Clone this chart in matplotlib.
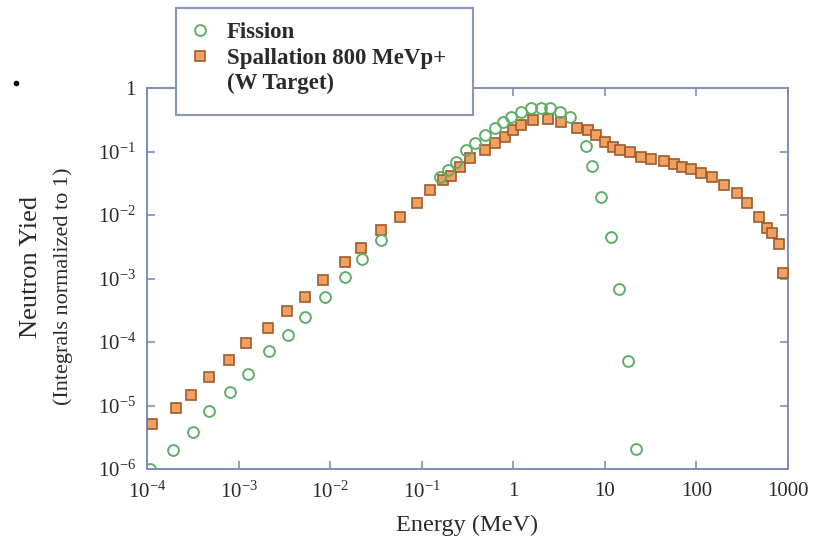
import matplotlib
matplotlib.use("Agg")
import matplotlib.pyplot as plt
from matplotlib.patches import Rectangle
from matplotlib.lines import Line2D
from matplotlib.ticker import FixedLocator, FixedFormatter, NullLocator

plt.rcParams['font.family'] = ['Liberation Serif', 'DejaVu Serif']
plt.rcParams['mathtext.fontset'] = 'custom'
plt.rcParams['mathtext.rm'] = 'Liberation Serif'
plt.rcParams['mathtext.it'] = 'Liberation Serif:italic'
plt.rcParams['mathtext.bf'] = 'Liberation Serif:bold'

# ---- data ----
spall_E = [1.14e-4, 2.08e-4, 3.03e-4, 4.78e-4, 7.9e-4, 1.21e-3, 2.11e-3, 3.41e-3,
           5.25e-3, 8.26e-3, 1.44e-2, 2.15e-2, 3.56e-2, 5.75e-2, 8.83e-2, 0.123,
           0.170, 0.208, 0.261, 0.337, 0.491, 0.632, 0.813, 0.995, 1.22, 1.65,
           2.40, 3.34, 5.0, 6.6, 8.07, 10.1, 12.4, 14.8, 19.0, 25.1, 32.3, 43.7,
           56.2, 68.9, 86.3, 111, 147, 199, 275, 355, 480, 587, 667, 794, 880]
spall_Y = [5.13e-6, 9.18e-6, 1.47e-5, 2.83e-5, 5.26e-5, 9.76e-5, 1.68e-4, 3.12e-4,
           5.2e-4, 9.64e-4, 1.79e-3, 2.98e-3, 5.73e-3, 9.18e-3, 1.53e-2, 2.45e-2,
           3.53e-2, 4.08e-2, 5.66e-2, 7.85e-2, 0.105, 0.135, 0.168, 0.217, 0.261,
           0.313, 0.324, 0.290, 0.234, 0.217, 0.181, 0.140, 0.117, 0.105, 0.0976,
           0.0813, 0.0757, 0.0704, 0.0631, 0.0566, 0.0526, 0.0455, 0.0393, 0.0294,
           0.0220, 0.0153, 9.18e-3, 6.15e-3, 5.13e-3, 3.44e-3, 1.24e-3]

fiss_E = [1.08e-4, 1.93e-4, 3.19e-4, 4.78e-4, 8.1e-4, 1.28e-3, 2.17e-3, 3.5e-3,
          5.25e-3, 8.7e-3, 1.44e-2, 2.21e-2, 3.56e-2, 0.158, 0.193, 0.236, 0.304,
          0.382, 0.491, 0.632, 0.773, 0.946, 1.22, 1.57, 2.01, 2.53, 3.26, 4.19,
          6.27, 7.3, 9.16, 11.8, 14.1, 18.1, 22.1]
fiss_Y = [1.0e-6, 2.0e-6, 3.84e-6, 8.24e-6, 1.64e-5, 3.16e-5, 7.3e-5, 1.31e-4,
          2.51e-4, 5.2e-4, 1.04e-3, 2.0e-3, 3.98e-3, 0.0393, 0.0507, 0.0678, 0.105,
          0.135, 0.181, 0.234, 0.290, 0.348, 0.418, 0.483, 0.483, 0.483, 0.418,
          0.348, 0.121, 0.0587, 0.019, 4.44e-3, 6.95e-4, 5.07e-5, 2.07e-6]

x_ticks = [1e-4, 1e-3, 1e-2, 1e-1, 1, 10, 100, 1000]
x_labels = [r'$\mathrm{10^{-4}}$', r'$\mathrm{10^{-3}}$', r'$\mathrm{10^{-2}}$',
            r'$\mathrm{10^{-1}}$', '1', '10', '100', '1000']
y_ticks = [1e-6, 1e-5, 1e-4, 1e-3, 1e-2, 1e-1, 1]
y_labels = [r'$\mathrm{10^{-6}}$', r'$\mathrm{10^{-5}}$', r'$\mathrm{10^{-4}}$',
            r'$\mathrm{10^{-3}}$', r'$\mathrm{10^{-2}}$', r'$\mathrm{10^{-1}}$', '1']

label_fission = 'Fission'
label_spall = 'Spallation 800 MeVp+'
label_spall2 = '(W Target)'

# ---- figure ----
W, H = 821, 542
fig = plt.figure(figsize=(W / 100, H / 100), dpi=100)
fig.patch.set_facecolor('white')
L, R, T, B = 147, 788, 88, 469
ax = fig.add_axes([L / W, 1 - B / H, (R - L) / W, (B - T) / H])

spine_col = '#7f8bbd'
orange_face = '#f0a060'
orange_edge = '#a05a2a'
green_edge = '#5fae68'
text_col = '#2a2a2a'

ax.plot(spall_E, spall_Y, linestyle='none', marker='s', ms=7.6,
        mfc=orange_face, mec=orange_edge, mew=1.2, zorder=3)
ax.plot(fiss_E, fiss_Y, linestyle='none', marker='o', ms=7.8,
        mfc='none', mec=green_edge, mew=1.4, zorder=4)

ax.set_xscale('log')
ax.set_yscale('log')
ax.set_xlim(1e-4, 1e3)
ax.set_ylim(1e-6, 1)

ax.xaxis.set_major_locator(FixedLocator(x_ticks))
ax.xaxis.set_major_formatter(FixedFormatter(x_labels))
ax.yaxis.set_major_locator(FixedLocator(y_ticks))
ax.yaxis.set_major_formatter(FixedFormatter(y_labels))
ax.xaxis.set_minor_locator(NullLocator())
ax.yaxis.set_minor_locator(NullLocator())

ax.tick_params(which='major', direction='in', length=6, width=1.2,
               color=spine_col, top=True, right=True, labelsize=15,
               labelcolor=text_col)
ax.tick_params(axis='x', pad=9)
ax.tick_params(axis='y', pad=8)
for s in ax.spines.values():
    s.set_color(spine_col)
    s.set_linewidth(1.4)

ax.set_xlabel('Energy (MeV)', fontsize=17.5, color=text_col, labelpad=9)

fig.text(31 / W, 1 - 267 / H, 'Neutron Yied', rotation=90, fontsize=19,
         ha='center', va='center', color=text_col)
fig.text(63 / W, 1 - 286 / H, '(Integrals normalized to 1)', rotation=90,
         fontsize=16, ha='center', va='center', color=text_col)

# small dot at top-left
fig.add_artist(Line2D([16 / W], [1 - 83 / H], marker='o', ms=3, color='black',
                      transform=fig.transFigure))

# legend box
box = Rectangle((176 / W, 1 - 115 / H), (473 - 176) / W, (115 - 8) / H,
                transform=fig.transFigure, facecolor='white',
                edgecolor='#8a94c4', linewidth=1.5, zorder=5)
fig.add_artist(box)

h1 = Line2D([], [], linestyle='none', marker='o', ms=7.8, mfc='none',
            mec=green_edge, mew=1.4)
h2 = Line2D([], [], linestyle='none', marker='s', ms=7.6, mfc=orange_face,
            mec=orange_edge, mew=1.2)
h3 = Line2D([], [], linestyle='none')
leg = fig.legend([h1, h2, h3], [label_fission, label_spall, label_spall2],
                 loc='upper left', bbox_to_anchor=(191 / W, 1 - 22 / H),
                 frameon=False, prop={'size': 16.5, 'weight': 'bold'},
                 handlelength=0.75, handletextpad=0.8, labelspacing=0.2,
                 borderpad=0, borderaxespad=0)
leg.set_zorder(6)
for t in leg.get_texts():
    t.set_color(text_col)

fig.savefig('out.png', dpi=100, facecolor='white')
